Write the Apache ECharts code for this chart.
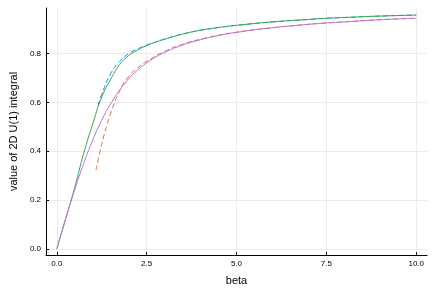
<!DOCTYPE html>
<html>
<head>
<meta charset="utf-8">
<script src="https://cdn.jsdelivr.net/npm/echarts@6/dist/echarts.min.js"></script>
<style>html,body{margin:0;padding:0;background:#fff}#c{width:436px;height:291px}</style>
</head>
<body>
<div id="c"></div>
<script>
// tick values
const xTicks = [0, 2.5, 5, 7.5, 10];
const yTicks = [0, 0.2, 0.4, 0.6, 0.8];

// series 1 (blue, dashed)
const blueX = [1.15, 1.25, 1.5, 1.75, 2.0, 2.25, 2.5, 2.75, 3, 3.5, 4, 4.5, 5, 6, 7, 7.5, 8, 9, 10];
const blueY = [0.588, 0.633, 0.718, 0.768, 0.8, 0.82, 0.835, 0.848, 0.86, 0.88, 0.896, 0.907, 0.916, 0.93, 0.94, 0.945, 0.948, 0.954, 0.958];

// series 2 (orange, dashed)
const orangeX = [1.09, 1.15, 1.2, 1.3, 1.4, 1.5, 1.75, 2.0, 2.25, 2.5, 3, 3.5, 4, 5, 6, 7, 8, 9, 10];
const orangeY = [0.322, 0.365, 0.398, 0.458, 0.51, 0.556, 0.648, 0.707, 0.742, 0.768, 0.809, 0.838, 0.859, 0.888, 0.906, 0.92, 0.93, 0.939, 0.945];

// series 3 (green, solid)
const greenX = [0, 0.25, 0.5, 0.75, 1.0, 1.25, 1.5, 1.75, 2.0, 2.25, 2.5, 2.75, 3, 3.5, 4, 4.5, 5, 6, 7, 7.5, 8, 9, 10];
const greenY = [0, 0.125, 0.252, 0.392, 0.512, 0.622, 0.695, 0.755, 0.792, 0.815, 0.833, 0.847, 0.859, 0.88, 0.896, 0.907, 0.916, 0.93, 0.94, 0.945, 0.948, 0.954, 0.958];

// series 4 (purple, solid)
const purpleX = [0, 0.25, 0.5, 0.75, 1.0, 1.25, 1.5, 1.75, 2.0, 2.25, 2.5, 2.75, 3, 3.5, 4, 4.5, 5, 6, 7, 7.5, 8, 9, 10];
const purpleY = [0, 0.124, 0.243, 0.35, 0.446, 0.527, 0.595, 0.65, 0.697, 0.733, 0.762, 0.786, 0.805, 0.835, 0.857, 0.874, 0.887, 0.906, 0.92, 0.926, 0.93, 0.939, 0.945];

const zip = (xs, ys) => xs.map((x, i) => [x, ys[i]]);

const chart = echarts.init(document.getElementById('c'), null, {renderer: 'canvas'});
const tickFont = {fontFamily: 'Liberation Sans', fontSize: 8, color: '#000'};
const mk = (name, xs, ys, color, dashed) => ({
  name, type: 'line', data: zip(xs, ys), showSymbol: false, smooth: true,
  lineStyle: {color, width: 1, type: dashed ? [5, 3] : 'solid'},
  itemStyle: {color}, silent: true
});
chart.setOption({
  animation: false,
  backgroundColor: '#fff',
  grid: {left: 38, right: 9, top: 8, bottom: 33, containLabel: false},
  xAxis: {
    type: 'value', min: -0.3, max: 10.3,
    name: 'beta', nameLocation: 'middle', nameGap: 20,
    nameTextStyle: {fontFamily: 'Liberation Sans', fontSize: 11, color: '#000'},
    axisLine: {onZero: false, lineStyle: {color: '#000', width: 1}},
    axisTick: {inside: true, length: 3, customValues: xTicks, lineStyle: {color: '#000'}},
    axisLabel: Object.assign({customValues: xTicks, margin: 5, formatter: v => v.toFixed(1)}, tickFont),
    splitLine: {show: true, lineStyle: {color: '#ebebeb', width: 1}}
  },
  yAxis: {
    type: 'value', min: -0.0256, max: 0.987,
    name: 'value of 2D U(1) integral', nameLocation: 'middle', nameGap: 26,
    nameTextStyle: {fontFamily: 'Liberation Sans', fontSize: 11, color: '#000'},
    axisLine: {show: true, onZero: false, lineStyle: {color: '#000', width: 1}},
    axisTick: {show: true, inside: true, length: 3, customValues: yTicks, lineStyle: {color: '#000'}},
    axisLabel: Object.assign({customValues: yTicks, margin: 5, formatter: v => v.toFixed(1)}, tickFont),
    splitLine: {show: true, lineStyle: {color: '#ebebeb', width: 1}}
  },
  series: [
    mk('s1', blueX, blueY, '#009AFA', true),
    mk('s2', orangeX, orangeY, '#E36F47', true),
    mk('s3', greenX, greenY, '#3EA44E', false),
    mk('s4', purpleX, purpleY, '#C371D2', false)
  ]
});
</script>
</body>
</html>
